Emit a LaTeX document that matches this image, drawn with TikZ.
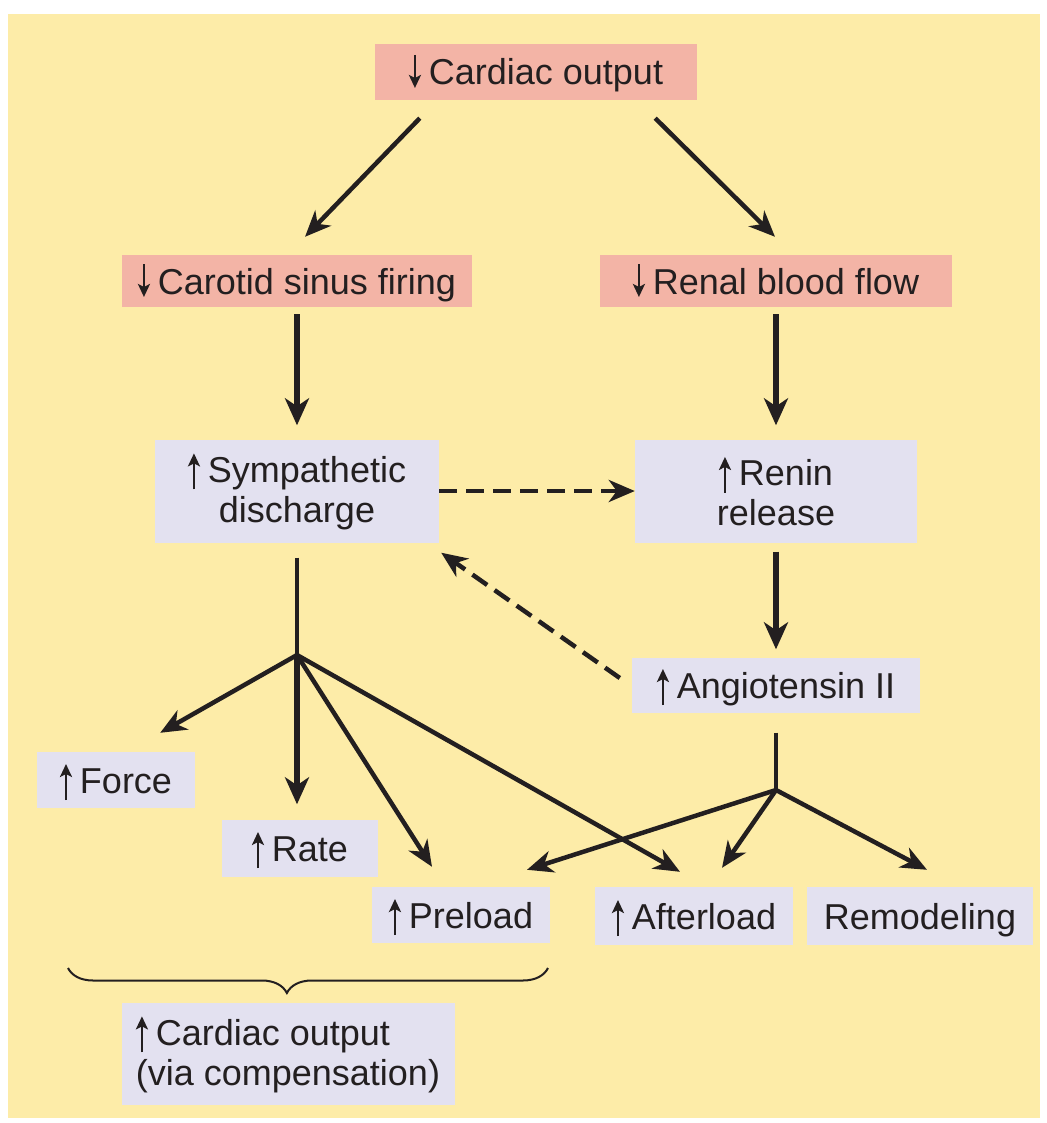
\documentclass[tikz,border=0pt]{standalone}
\usepackage{fontspec}
\setmainfont{Liberation Sans}
\usepackage{tikz}
\usetikzlibrary{arrows.meta,positioning,calc,decorations.pathreplacing}
\definecolor{crema}{HTML}{FDECA8}
\definecolor{salmon}{HTML}{F3B4A6}
\definecolor{lila}{HTML}{E3E1F0}
\definecolor{ink}{HTML}{231F20}
% small arrows in front of the labels
\newcommand{\up}{\tikz[baseline=0pt]\draw[ink,line width=2.4pt,
    -{Stealth[length=13pt,width=12pt,inset=3pt]}] (0pt,-7pt) -- (0pt,29pt);\kern8pt}
\newcommand{\dn}{\tikz[baseline=0pt]\draw[ink,line width=2.4pt,
    -{Stealth[length=13pt,width=12pt,inset=3pt]}] (0pt,30pt) -- (0pt,-3pt);\kern8pt}

\begin{document}
\begin{tikzpicture}[x=1pt,y=-1pt,
          >={Stealth[length=26pt,width=22pt,inset=8pt]},
          font=\fontsize{36}{40}\selectfont,
          box/.style={ink,align=center,inner sep=0pt},
          oneline/.style={text height=33pt,text depth=7pt},
          redbox/.style={box,oneline,fill=salmon},
          bluebox/.style={box,fill=lila},
          arr/.style={->,ink,line width=4.5pt},
          arrthick/.style={->,ink,line width=6.5pt,
                           >={Stealth[length=27pt,width=24pt,inset=8pt]}},
          arrdash/.style={->,ink,line width=4.5pt,dash pattern=on 18pt off 9pt},
          stem/.style={ink,line width=4.5pt}]
        \fill[white] (0,0) rectangle (1046,1123);
        \useasboundingbox (0,0) rectangle (1046,1123);
        \fill[crema] (8,14) rectangle (1040,1118);
        % top row
        \node[redbox,minimum width=322pt,minimum height=56pt] (cofall) at (536,72)
          {\dn Cardiac output};
        \node[redbox,minimum width=350pt,minimum height=52pt] (carotid) at (297,281)
          {\dn Carotid sinus firing};
        \node[redbox,minimum width=352pt,minimum height=52pt] (renal) at (776,281)
          {\dn Renal blood flow};
        % middle
        \node[bluebox,minimum width=284pt,minimum height=103pt] (symp) at (297,491)
          {\up Sympathetic\\discharge};
        \node[bluebox,minimum width=282pt,minimum height=103pt] (renin) at (776,491)
          {\up Renin\\release};
        \node[bluebox,oneline,minimum width=288pt,minimum height=55pt] (angio) at (776,685)
          {\up Angiotensin II};
        % effects
        \node[bluebox,oneline,minimum width=158pt,minimum height=56pt] (force) at (116,780) {\up Force};
        \node[bluebox,oneline,minimum width=156pt,minimum height=57pt] (rate) at (300,848) {\up Rate};
        \node[bluebox,oneline,minimum width=178pt,minimum height=56pt] (preload) at (461,915) {\up Preload};
        \node[bluebox,oneline,minimum width=198pt,minimum height=58pt] (afterload) at (694,916) {\up Afterload};
        \node[bluebox,oneline,minimum width=226pt,minimum height=58pt] (remod) at (920,916) {Remodeling};
        \node[bluebox,align=left,minimum width=333pt,minimum height=102pt] (corise) at (288,1054)
          {\up Cardiac output\\(via compensation)};
        \coordinate (sympfork) at (297,655);
        \coordinate (angfork) at (776,790);
        \coordinate (bl) at (68,968);
        \coordinate (br) at (548,968);
        % connectors
        \draw[arr] ([shift={(45pt,-18pt)}]cofall.south west) -- ([shift={(8pt,18pt)}]carotid.north);
        \draw[arr] ([shift={(-42pt,-18pt)}]cofall.south east) -- ([shift={(-1pt,18pt)}]renal.north);
        \draw[arrthick,shorten <=7pt,shorten >=14pt] (carotid) -- (symp);
        \draw[arrthick,shorten <=7pt,shorten >=14pt] (renal) -- (renin);
        \draw[arrthick,shorten <=9pt,shorten >=8pt] (renin) -- (angio);
        \draw[arrdash] (symp) -- (renin);
        \draw[arrdash] ([shift={(-12pt,7pt)}]angio.west) -- ([shift={(2pt,-10pt)}]symp.south east);
        \draw[stem,shorten <=15pt] (symp) -- (sympfork);
        \draw[arr] (sympfork) -- ([shift={(-35pt,19pt)}]force.north east);
        \draw[arrthick,shorten >=15pt] (sympfork) -- (sympfork |- rate.north);
        \draw[arr] (sympfork) -- ([shift={(-29pt,20pt)}]preload.north);
        \draw[arr] (sympfork) -- ([shift={(-14pt,15pt)}]afterload.north);
        \draw[stem,shorten <=20pt] (angio) -- (angfork);
        \draw[arr] (angfork) -- ([shift={(66pt,17pt)}]preload.north);
        \draw[arr] (angfork) -- ([shift={(28pt,19pt)}]afterload.north);
        \draw[arr] (angfork) -- ([shift={(7pt,17pt)}]remod.north);
        % brace over the compensating effects
        \draw[ink,line width=2pt,decorate,
              decoration={brace,mirror,amplitude=25pt,aspect=0.456}] (bl) -- (br);
      \end{tikzpicture}
\end{document}
